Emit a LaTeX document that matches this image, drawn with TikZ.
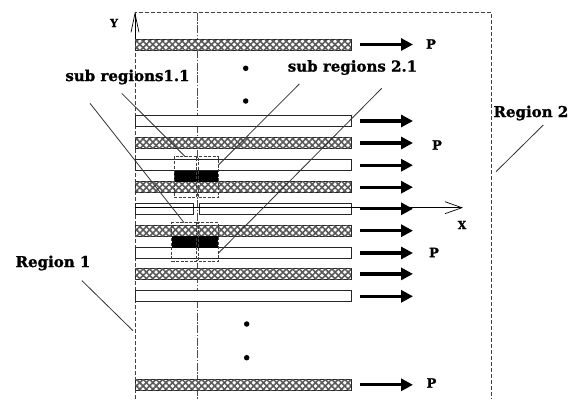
\documentclass[tikz,border=0pt]{standalone}
\usepackage{fontspec}
\setmainfont{DejaVu Serif}
\newfontfamily\heavyserif[FakeBold=1.2]{DejaVu Serif Bold}
\usetikzlibrary{arrows.meta,patterns.meta}

\begin{document}
\begin{tikzpicture}[x=1pt,y=-1pt,
  lbl/.style={font=\heavyserif\fontsize{15}{17}\selectfont, inner sep=0pt},
  axlbl/.style={font=\heavyserif\fontsize{13}{15}\selectfont, inner sep=0pt},
  border/.style={line width=0.9pt, black!75, dash pattern=on 4pt off 2pt},
  midline/.style={line width=0.9pt, black!70, dash pattern=on 8pt off 1.5pt on 1.5pt off 1.5pt},
  bar/.style={draw=black!85, line width=0.9pt, inner sep=0pt, outer sep=0pt,
    minimum height=11pt, anchor=north west},
  openbar/.style={bar, fill=white, minimum width=216pt},
  hatched/.style={bar, minimum width=216pt,
    preaction={fill=white},
    pattern={Lines[angle=45,distance=4.6pt,line width=1.6pt]}, pattern color=black!65,
    postaction={pattern={Lines[angle=-45,distance=4.6pt,line width=1.6pt]}, pattern color=black!65}},
  block/.style={fill=black, inner sep=0pt, outer sep=0pt, anchor=north west},
  subbox/.style={draw=black!75, line width=0.8pt, dash pattern=on 3pt off 1.5pt,
    inner sep=0pt, outer sep=0pt, anchor=north west},
  flow/.style={line width=3.2pt, -{Triangle[length=12pt,width=12pt]}},
  axis/.style={line width=0.7pt, -{Straight Barb[length=17pt,width=12pt]}},
  leader/.style={line width=0.8pt, black!80},
  dot/.style={circle, fill=black, inner sep=0pt, minimum size=5.5pt},
]
\useasboundingbox (0,0) rectangle (569,399);

% region borders
\draw[border] (135,399) -- (135,12.5) -- (491,12.5) -- (491,399);
\draw[midline] (197,12.5) -- (197,399);

% bars
\node[hatched] (b1) at (135,39) {};
\node[openbar] (b2) at (135,115.5) {};
\node[hatched] (b3) at (135,137.5) {};
\node[openbar] (b4) at (135,159.7) {};
\node[hatched] (b5) at (135,181.7) {};
\node[bar, fill=white, minimum width=58.3pt] (b6a) at (135,203.3) {};
\node[bar, fill=white, minimum width=151.7pt] (b6) at (199.3,203.3) {};
\node[hatched] (b7) at (135,225.2) {};
\node[openbar] (b8) at (135,247.5) {};
\node[hatched] (b9) at (135,268.4) {};
\node[openbar] (b10) at (135,290.8) {};
\node[hatched] (b11) at (135,379.3) {};

% dark blocks
\node[block, minimum width=44.3pt, minimum height=11pt] (k1) at (174,170.7) {};
\node[block, minimum width=46.6pt, minimum height=11.7pt] (k2) at (171.7,236) {};

% sub regions
\node[subbox, minimum width=22.5pt, minimum height=40.6pt] (s11) at (174,156.7) {};
\node[subbox, minimum width=19.8pt, minimum height=40.6pt] (s21) at (198.5,156.7) {};
\node[subbox, minimum width=24.8pt, minimum height=38.3pt] (s12) at (171.7,222.7) {};
\node[subbox, minimum width=19.8pt, minimum height=38.3pt] (s22) at (198.5,222.7) {};

% axes
\coordinate (o) at (135,207.7);
\coordinate (xe) at (463,207.7);
\coordinate (ys) at (135,39);
\coordinate (ye) at (135,11.7);
\draw[axis] (o) -- (xe);
\draw[axis, -{Straight Barb[length=19pt,width=8pt]}] (ys) -- (ye);
\node[axlbl, font=\heavyserif\fontsize{11}{13}\selectfont] (xl) at (462,225) {X};
\node[axlbl, font=\heavyserif\fontsize{11}{13}\selectfont] (yl) at (114,23) {Y};

% flow arrows
\foreach \b in {b1,b2,b3,b4,b5,b6,b7,b8,b9,b10,b11}
  \draw[flow] ([xshift=9pt]\b.east) -- ([xshift=62pt]\b.east);

\node[axlbl] (p1) at (431,44) {P};
\node[axlbl] (p2) at (437,145) {P};
\node[axlbl] (p3) at (434,252.5) {P};
\node[axlbl] (p4) at (431.5,383) {P};

% continuation dots
\node[dot] (d1) at (245.7,68.3) {};
\node[dot] (d2) at (245.7,101) {};
\node[dot] (d3) at (246.7,324) {};
\node[dot] (d4) at (246.7,357.7) {};

% labels and leaders
\node[lbl] (t11) at (127.5,77) {sub regions1.1};
\node[lbl] (t21) at (352.5,67.5) {sub regions 2.1};
\node[lbl] (r1) at (53,263) {Region 1};
\node[lbl, anchor=west] (r2) at (493.3,113) {Region 2};

\coordinate (c1a) at (90,103.3);
\coordinate (c1b) at (121.7,93.3);
\coordinate (c2a) at (299.3,84);
\coordinate (c2b) at (381.7,88.3);
\coordinate (cr1) at (82,280.7);
\coordinate (er1) at (133,330.7);
\coordinate (cr2) at (543.3,125);
\coordinate (er2) at (496,171.7);

\draw[leader] (c1a) -- (s12.north);
\draw[leader] (c1b) -- (s11.north);
\draw[leader] (c2a) -- (s21.50);
\draw[leader] (c2b) -- (s22.-49);
\draw[leader] (cr1) -- (er1);
\draw[leader] (cr2) -- (er2);
\end{tikzpicture}
\end{document}
